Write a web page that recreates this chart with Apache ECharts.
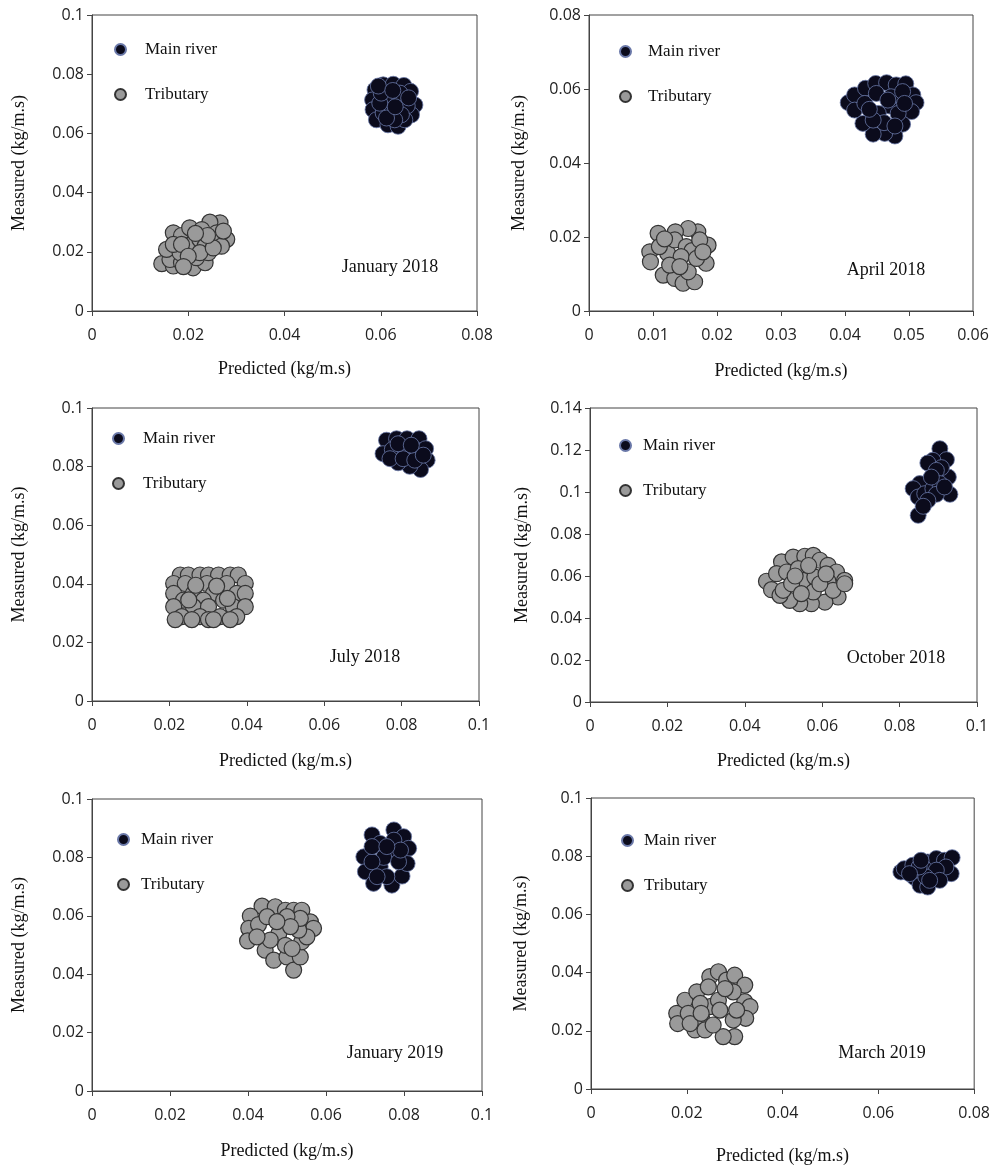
<!DOCTYPE html>
<html>
<head>
<meta charset="utf-8">
<script src="https://cdn.jsdelivr.net/npm/echarts@6/dist/echarts.min.js"></script>
<style>
html,body{margin:0;padding:0;background:#fff;}
#chart{width:993px;height:1167px;}
</style>
</head>
<body>
<div id="chart"></div>
<script>
// ---------------- DATA ----------------
const seriesNames = ['Main river', 'Tributary'];
const panelTitles = ['January 2018', 'April 2018', 'July 2018', 'October 2018', 'January 2019', 'March 2019'];
const xMaxes = [0.08, 0.06, 0.1, 0.1, 0.1, 0.08];
const xIntervals = [0.02, 0.01, 0.02, 0.02, 0.02, 0.02];
const yMaxes = [0.1, 0.08, 0.1, 0.14, 0.1, 0.1];
const yIntervals = [0.02, 0.02, 0.02, 0.02, 0.02, 0.02];
const xAxisTitle = 'Predicted (kg/m.s)';
const yAxisTitle = 'Measured (kg/m.s)';

const jan2018Main = [[0.0605,0.0764],[0.0626,0.0766],[0.0648,0.0762],[0.0588,0.0747],[0.0583,0.0713],[0.0584,0.0680],[0.0591,0.0646],[0.0662,0.0742],[0.0671,0.0696],[0.0664,0.0663],[0.0615,0.0629],[0.0636,0.0624],[0.0650,0.0646],[0.0612,0.0713],[0.0636,0.0702],[0.0655,0.0693],[0.0622,0.0674],[0.0605,0.0669],[0.0643,0.0663],[0.0619,0.0725],[0.0598,0.0702],[0.0629,0.0646],[0.0612,0.0652],[0.0640,0.0736],[0.0601,0.0736],[0.0630,0.0690],[0.0595,0.0760],[0.0658,0.0720],[0.0625,0.0745]];
const jan2018Trib = [[0.0145,0.0160],[0.0266,0.0298],[0.0245,0.0300],[0.0280,0.0242],[0.0255,0.0239],[0.0169,0.0264],[0.0186,0.0255],[0.0203,0.0281],[0.0228,0.0275],[0.0169,0.0152],[0.0210,0.0146],[0.0235,0.0163],[0.0162,0.0174],[0.0242,0.0197],[0.0217,0.0180],[0.0186,0.0163],[0.0155,0.0208],[0.0183,0.0197],[0.0197,0.0219],[0.0210,0.0230],[0.0224,0.0242],[0.0235,0.0219],[0.0259,0.0264],[0.0269,0.0219],[0.0169,0.0225],[0.0186,0.0225],[0.0224,0.0197],[0.0252,0.0213],[0.0200,0.0185],[0.0273,0.0270],[0.0190,0.0150],[0.0240,0.0255],[0.0215,0.0262]];
const apr2018Main = [[0.0405,0.0563],[0.0415,0.0584],[0.0432,0.0602],[0.0448,0.0615],[0.0465,0.0617],[0.0480,0.0611],[0.0495,0.0614],[0.0506,0.0584],[0.0511,0.0563],[0.0504,0.0539],[0.0490,0.0505],[0.0478,0.0473],[0.0462,0.0480],[0.0444,0.0478],[0.0428,0.0507],[0.0415,0.0543],[0.0431,0.0561],[0.0449,0.0588],[0.0470,0.0554],[0.0452,0.0534],[0.0472,0.0579],[0.0490,0.0593],[0.0461,0.0509],[0.0483,0.0534],[0.0444,0.0516],[0.0493,0.0561],[0.0467,0.0570],[0.0438,0.0545],[0.0478,0.0500]];
const apr2018Trib = [[0.0095,0.0160],[0.0096,0.0133],[0.0108,0.0210],[0.0116,0.0097],[0.0134,0.0088],[0.0147,0.0075],[0.0165,0.0079],[0.0183,0.0129],[0.0186,0.0178],[0.0170,0.0214],[0.0155,0.0223],[0.0135,0.0214],[0.0123,0.0156],[0.0134,0.0192],[0.0152,0.0174],[0.0161,0.0163],[0.0144,0.0147],[0.0126,0.0124],[0.0155,0.0106],[0.0168,0.0142],[0.0173,0.0192],[0.0110,0.0174],[0.0142,0.0120],[0.0118,0.0195],[0.0178,0.0160]];
const jul2018Main = [[0.0761,0.0890],[0.0787,0.0895],[0.0814,0.0895],[0.0845,0.0895],[0.0752,0.0844],[0.0776,0.0858],[0.0808,0.0861],[0.0838,0.0856],[0.0862,0.0861],[0.0866,0.0822],[0.0849,0.0790],[0.0821,0.0801],[0.0791,0.0813],[0.0770,0.0827],[0.0804,0.0827],[0.0834,0.0822],[0.0856,0.0839],[0.0791,0.0878],[0.0825,0.0873]];
const jul2018Trib = [[0.0228,0.0430],[0.0249,0.0430],[0.0279,0.0430],[0.0301,0.0430],[0.0327,0.0430],[0.0357,0.0430],[0.0378,0.0430],[0.0211,0.0401],[0.0241,0.0401],[0.0297,0.0401],[0.0348,0.0401],[0.0396,0.0401],[0.0211,0.0367],[0.0262,0.0367],[0.0314,0.0367],[0.0374,0.0367],[0.0396,0.0367],[0.0236,0.0344],[0.0288,0.0344],[0.0340,0.0344],[0.0211,0.0322],[0.0262,0.0322],[0.0301,0.0322],[0.0365,0.0322],[0.0396,0.0322],[0.0232,0.0288],[0.0279,0.0288],[0.0331,0.0288],[0.0374,0.0288],[0.0215,0.0278],[0.0258,0.0278],[0.0301,0.0278],[0.0314,0.0278],[0.0357,0.0278],[0.0268,0.0395],[0.0322,0.0392],[0.0250,0.0345],[0.0350,0.0350]];
const oct2018Main = [[0.0904,0.1206],[0.0921,0.1154],[0.0886,0.1151],[0.0873,0.1138],[0.0926,0.1071],[0.0908,0.1116],[0.0895,0.1103],[0.0878,0.1056],[0.0852,0.1040],[0.0835,0.1016],[0.0848,0.0976],[0.0865,0.0992],[0.0886,0.1016],[0.0904,0.1040],[0.0930,0.0989],[0.0895,0.0989],[0.0873,0.0960],[0.0848,0.0889],[0.0861,0.0932],[0.0916,0.1024],[0.0882,0.1071]];
const oct2018Trib = [[0.0456,0.0575],[0.0469,0.0535],[0.0495,0.0667],[0.0525,0.0690],[0.0555,0.0694],[0.0577,0.0698],[0.0594,0.0675],[0.0615,0.0651],[0.0637,0.0619],[0.0658,0.0579],[0.0641,0.0500],[0.0607,0.0476],[0.0572,0.0468],[0.0542,0.0468],[0.0516,0.0484],[0.0491,0.0508],[0.0499,0.0532],[0.0482,0.0611],[0.0508,0.0619],[0.0538,0.0635],[0.0551,0.0579],[0.0521,0.0563],[0.0581,0.0595],[0.0577,0.0524],[0.0546,0.0516],[0.0615,0.0575],[0.0628,0.0532],[0.0594,0.0563],[0.0658,0.0563],[0.0565,0.0650],[0.0610,0.0610],[0.0530,0.0600]];
const jan2019Main = [[0.0718,0.0877],[0.0774,0.0894],[0.0799,0.0871],[0.0812,0.0831],[0.0697,0.0802],[0.0701,0.0751],[0.0722,0.0711],[0.0769,0.0705],[0.0795,0.0736],[0.0808,0.0779],[0.0739,0.0848],[0.0774,0.0859],[0.0739,0.0768],[0.0774,0.0814],[0.0748,0.0800],[0.0718,0.0785],[0.0786,0.0785],[0.0756,0.0734],[0.0731,0.0734],[0.0718,0.0837],[0.0791,0.0825],[0.0756,0.0837]];
const jan2019Trib = [[0.0436,0.0633],[0.0470,0.0631],[0.0496,0.0619],[0.0517,0.0619],[0.0538,0.0619],[0.0406,0.0599],[0.0402,0.0557],[0.0399,0.0514],[0.0427,0.0570],[0.0449,0.0597],[0.0444,0.0482],[0.0466,0.0448],[0.0500,0.0459],[0.0517,0.0414],[0.0534,0.0459],[0.0538,0.0511],[0.0560,0.0579],[0.0568,0.0557],[0.0551,0.0528],[0.0530,0.0551],[0.0534,0.0591],[0.0500,0.0597],[0.0479,0.0539],[0.0496,0.0499],[0.0457,0.0517],[0.0423,0.0528],[0.0509,0.0563],[0.0474,0.0580],[0.0513,0.0488]];
const mar2019Main = [[0.0647,0.0746],[0.0654,0.0757],[0.0672,0.0769],[0.0675,0.0727],[0.0687,0.0700],[0.0703,0.0694],[0.0703,0.0780],[0.0721,0.0792],[0.0738,0.0786],[0.0754,0.0795],[0.0752,0.0740],[0.0741,0.0763],[0.0721,0.0752],[0.0728,0.0717],[0.0699,0.0729],[0.0685,0.0763],[0.0689,0.0786],[0.0707,0.0717],[0.0665,0.0740]];
const mar2019Trib = [[0.0179,0.0260],[0.0181,0.0225],[0.0196,0.0305],[0.0203,0.0260],[0.0221,0.0334],[0.0217,0.0203],[0.0231,0.0243],[0.0238,0.0203],[0.0248,0.0386],[0.0266,0.0403],[0.0283,0.0374],[0.0300,0.0391],[0.0321,0.0357],[0.0321,0.0300],[0.0332,0.0283],[0.0323,0.0243],[0.0300,0.0180],[0.0276,0.0180],[0.0255,0.0220],[0.0248,0.0283],[0.0266,0.0305],[0.0297,0.0334],[0.0269,0.0271],[0.0297,0.0237],[0.0228,0.0294],[0.0245,0.0351],[0.0304,0.0271],[0.0207,0.0225],[0.0280,0.0345],[0.0230,0.0260]];

const mainData = [jan2018Main, apr2018Main, jul2018Main, oct2018Main, jan2019Main, mar2019Main];
const tribData = [jan2018Trib, apr2018Trib, jul2018Trib, oct2018Trib, jan2019Trib, mar2019Trib];

// ---------------- LAYOUT ----------------
const grids = [
  {left: 92, top: 15, width: 385, height: 296},
  {left: 589, top: 15, width: 384, height: 296},
  {left: 92, top: 408, width: 387, height: 293},
  {left: 590, top: 408, width: 387, height: 294},
  {left: 92, top: 799, width: 390, height: 292},
  {left: 591, top: 798, width: 384, height: 291}
];
const xNameGaps = [49, 51, 51, 50, 51, 58];
const yNameGaps = [64, 61, 64, 59, 64, 61];
const legendPos = [
  {left: 114, top: 41, pad: 14},
  {left: 619, top: 43, pad: 12},
  {left: 112, top: 430, pad: 14},
  {left: 619, top: 437, pad: 7},
  {left: 117, top: 831, pad: 7},
  {left: 621, top: 832, pad: 6}
];
const annotPos = [[390, 267], [886, 270], [365, 657], [896, 658], [395, 1053], [882, 1053]];

const serif = '"Liberation Serif", "Times New Roman", serif';
const sans = '"Open Sans", "Noto Sans", sans-serif';
const axisColor = '#444';

function fmt(v) { return String(+v.toFixed(3)); }

const option = {
  animation: false,
  backgroundColor: '#fff',
  grid: grids.map(g => Object.assign({show: true, borderColor: axisColor, borderWidth: 1, backgroundColor: 'transparent'}, g)),
  xAxis: grids.map((g, i) => ({
    gridIndex: i, type: 'value', min: 0, max: xMaxes[i], interval: xIntervals[i],
    name: xAxisTitle, nameLocation: 'middle', nameGap: xNameGaps[i],
    nameTextStyle: {fontFamily: serif, fontSize: 18, color: '#111'},
    axisLine: {show: true, lineStyle: {color: axisColor, width: 1}},
    axisTick: {show: true, length: 5, lineStyle: {color: axisColor}},
    axisLabel: {fontFamily: sans, fontSize: 16, color: '#222', margin: 16, formatter: fmt},
    splitLine: {show: false}
  })),
  yAxis: grids.map((g, i) => ({
    gridIndex: i, type: 'value', min: 0, max: yMaxes[i], interval: yIntervals[i],
    name: yAxisTitle, nameLocation: 'middle', nameGap: yNameGaps[i],
    nameTextStyle: {fontFamily: serif, fontSize: 18, color: '#111'},
    axisLine: {show: true, lineStyle: {color: axisColor, width: 1}},
    axisTick: {show: true, length: 5, lineStyle: {color: axisColor}},
    axisLabel: {fontFamily: sans, fontSize: 16, color: '#222', margin: 8, formatter: fmt},
    splitLine: {show: false}
  })),
  legend: legendPos.map(p => ({
    left: p.left, top: p.top, orient: 'vertical', itemGap: 28, padding: 0,
    itemWidth: 11, itemHeight: 11, icon: 'circle',
    selectedMode: false,
    data: seriesNames,
    textStyle: {fontFamily: serif, fontSize: 17, color: '#111', padding: [0, 0, 0, p.pad]}
  })),
  series: [],
  graphic: annotPos.map((p, i) => ({
    type: 'text', x: p[0], y: p[1],
    style: {text: panelTitles[i], fontFamily: serif, fontSize: 18, fill: '#111', textAlign: 'center', textVerticalAlign: 'middle'}
  }))
};

for (let i = 0; i < 6; i++) {
  option.series.push({
    name: seriesNames[0], type: 'scatter', xAxisIndex: i, yAxisIndex: i,
    data: mainData[i], symbol: 'circle', symbolSize: 16,
    itemStyle: {color: '#0b0b1c', borderColor: '#6a78a8', borderWidth: 0.8, opacity: 1}
  });
  option.series.push({
    name: seriesNames[1], type: 'scatter', xAxisIndex: i, yAxisIndex: i,
    data: tribData[i], symbol: 'circle', symbolSize: 16,
    itemStyle: {color: '#9a9a9a', borderColor: '#333', borderWidth: 1.2, opacity: 1}
  });
}

const chart = echarts.init(document.getElementById('chart'), null, {renderer: 'canvas'});
chart.setOption(option);
</script>
</body>
</html>
